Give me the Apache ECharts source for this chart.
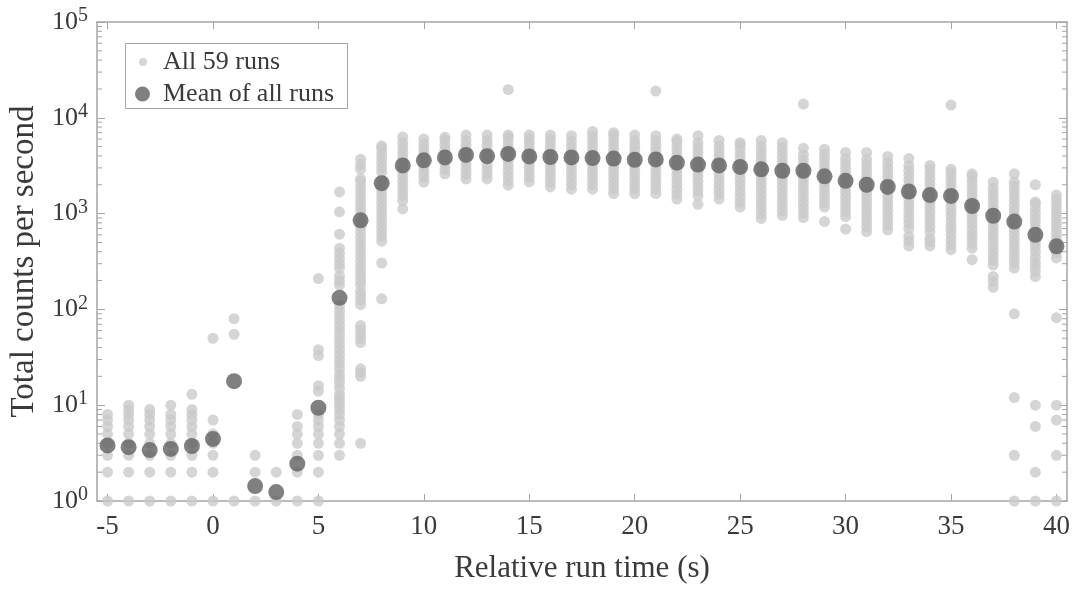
<!DOCTYPE html>
<html>
<head>
<meta charset="utf-8">
<script src="https://cdn.jsdelivr.net/npm/echarts@6/dist/echarts.min.js"></script>
<style>
  html, body { margin: 0; padding: 0; background: #fff; }
  #main { width: 1078px; height: 589px; }
</style>
</head>
<body>
<div id="main"></div>
<script>
// relative run time (s)
const times = [-5, -4, -3, -2, -1, 0, 1, 2, 3, 4, 5, 6, 7, 8, 9, 10, 11, 12, 13, 14, 15, 16, 17, 18, 19, 20,
  21, 22, 23, 24, 25, 26, 27, 28, 29, 30, 31, 32, 33, 34, 35, 36, 37, 38, 39, 40]

// visible counts of the individual runs, one list per time step
const runValues = [
  [1, 2, 3, 4, 5, 6, 7, 8],
  [1, 2, 3, 4, 5, 6, 7, 8, 9, 10],
  [1, 2, 3, 4, 5, 6, 7, 8, 9],
  [1, 2, 3, 4, 5, 6, 7, 8, 10],
  [1, 2, 3, 4, 5, 6, 7, 8, 9, 13],
  [1, 2, 3, 4, 5, 7, 50],
  [1, 55, 80],
  [1, 2, 3],
  [1, 2],
  [1, 2, 3, 4, 5, 6, 8],
  [1, 2, 3, 4, 5, 6, 7, 8, 14, 16, 33, 38, 210],
  [3, 4, 5, 6, 7, 8, 9, 10, 11, 12, 13, 15, 17, 19, 21, 24, 27, 30, 34, 38, 43, 48, 54, 61, 68, 77, 86, 97, 110,
    180, 200, 223, 270, 300, 340, 385, 435, 610, 1045, 1685],
  [4, 20, 22, 24, 45, 50, 56, 62, 68, 112, 125, 140, 155, 180, 200, 225, 250, 280, 315, 355, 400, 450, 505, 570,
    650, 730, 820, 960, 1080, 1210, 1360, 1530, 1720, 1930, 2170, 2300, 2900, 3250, 3700],
  [129, 305, 515, 580, 650, 730, 820, 920, 1030, 1160, 1300, 1460, 1640, 1800, 2000, 2250, 2700, 3030, 3400,
    3820, 4290, 4820, 5100],
  [1120, 1370, 1540, 1730, 1940, 2180, 2450, 2750, 3090, 3470, 3900, 4380, 4920, 5520, 6300],
  [2130, 2390, 2680, 3010, 3380, 3790, 4260, 4780, 5360, 6000],
  [2600, 2920, 3280, 3680, 4130, 4640, 5210, 5850, 6250],
  [2300, 2580, 2900, 3250, 3650, 4100, 4600, 5170, 5800, 6600],
  [2300, 2580, 2900, 3250, 3650, 4100, 4600, 5170, 5800, 6600],
  [1980, 2220, 2500, 2800, 3150, 3530, 3970, 4450, 5000, 5610, 6300, 6600, 19700],
  [2150, 2410, 2710, 3040, 3410, 3830, 4300, 4830, 5420, 6080, 6600],
  [1900, 2130, 2390, 2690, 3020, 3390, 3800, 4270, 4790, 5380, 6040, 6600],
  [1800, 2020, 2270, 2550, 2860, 3210, 3600, 4050, 4540, 5100, 5720, 6500],
  [1800, 2020, 2270, 2550, 2860, 3210, 3600, 4050, 4540, 5100, 5720, 6420, 7200],
  [1620, 1820, 2040, 2290, 2570, 2890, 3240, 3640, 4090, 4590, 5150, 5780, 6490, 7000],
  [1620, 1820, 2040, 2290, 2570, 2890, 3240, 3640, 4090, 4590, 5150, 5780, 6600],
  [1620, 1820, 2040, 2290, 2570, 2890, 3240, 3640, 4090, 4590, 5150, 5780, 6500, 19000],
  [1420, 1600, 1790, 2010, 2260, 2540, 2850, 3200, 3590, 4030, 4520, 5080, 5700, 6000],
  [1250, 1540, 1730, 1940, 2180, 2450, 2750, 3090, 3470, 3900, 4380, 4920, 5520, 6500],
  [1420, 1600, 1790, 2010, 2260, 2540, 2850, 3200, 3590, 4030, 4520, 5080, 5800],
  [1170, 1310, 1470, 1650, 1860, 2080, 2340, 2630, 2950, 3310, 3720, 4170, 4690, 5260, 5500],
  [890, 1000, 1120, 1260, 1410, 1590, 1780, 2000, 2250, 2520, 2830, 3180, 3570, 4010, 4500, 5050, 5800],
  [960, 1080, 1210, 1360, 1530, 1720, 1930, 2170, 2430, 2730, 3070, 3440, 3870, 4340, 4870, 5500],
  [910, 1020, 1150, 1290, 1450, 1630, 1830, 2050, 2300, 2590, 2900, 3260, 3660, 4110, 4800, 13900],
  [825, 1170, 1310, 1470, 1650, 1860, 2080, 2340, 2630, 2950, 3310, 3720, 4170, 4700],
  [690, 930, 1040, 1170, 1320, 1480, 1660, 1860, 2090, 2350, 2640, 2960, 3330, 3740, 4350],
  [650, 730, 820, 920, 1030, 1160, 1300, 1460, 1640, 1840, 2070, 2320, 2610, 2930, 3290, 3690, 4350],
  [675, 760, 850, 960, 1070, 1210, 1350, 1520, 1710, 1920, 2150, 2420, 2710, 3050, 3420, 3950],
  [460, 520, 580, 700, 790, 880, 990, 1110, 1250, 1400, 1580, 1770, 1990, 2230, 2510, 2820, 3160, 3750],
  [460, 510, 550, 650, 730, 820, 920, 1030, 1160, 1300, 1460, 1640, 1840, 2070, 2320, 2610, 2930, 3180],
  [420, 470, 530, 600, 670, 750, 840, 950, 1060, 1190, 1340, 1500, 1690, 1900, 2130, 2390, 2680, 2900, 13600],
  [330, 435, 490, 550, 610, 690, 770, 870, 970, 1090, 1230, 1380, 1550, 1740, 1950, 2190, 2460, 2600],
  [170, 195, 220, 290, 325, 365, 410, 460, 520, 580, 650, 730, 820, 920, 1040, 1160, 1310, 1470, 1650, 1850, 2130],
  [1, 3, 12, 90, 270, 305, 340, 380, 430, 480, 540, 610, 680, 770, 860, 970, 1090, 1220, 1370, 1540, 1730, 1940,
    2130, 2600],
  [1, 2, 6, 10, 220, 250, 280, 310, 350, 400, 450, 500, 560, 630, 710, 800, 890, 1000, 1130, 1270, 1320, 2000],
  [1, 3, 7, 10, 82, 345, 390, 440, 490, 550, 620, 700, 780, 880, 990, 1110, 1250, 1400, 1560]
]

// mean of all runs at each time step
const meanValues = [3.8, 3.65, 3.4, 3.5, 3.75, 4.45, 17.8, 1.43, 1.24, 2.45, 9.4, 132, 850, 2080, 3180, 3600,
  3860, 4100, 3980, 4200, 3950, 3900, 3860, 3800, 3750, 3650, 3680, 3400, 3250, 3180, 3070, 2900, 2800, 2800,
  2450, 2200, 2000, 1900, 1700, 1560, 1530, 1200, 950, 825, 600, 455]

const xTicks = [-5, 0, 5, 10, 15, 20, 25, 30, 35, 40]
const yTicks = [1, 10, 100, 1000, 10000, 100000]

const FONT = '"Liberation Serif", "Times New Roman", serif'
const axisGray = '#a5a5a5'
const textColor = '#3a3a3a'
const X_MIN = -5.5
const X_MAX = 40.5

let runPoints = []
times.forEach((t, i) => {
    runValues[i].forEach(v => runPoints.push([t, v]))
})
let meanPoints = times.map((t, i) => [t, meanValues[i]])

// log minor ticks (2..9 of each decade), drawn on left and right frame
let minorTicks = []
for (let k = 0; k < 5; k++) {
    for (let m = 2; m < 10; m++) minorTicks.push([X_MIN, m * Math.pow(10, k)])
}

let chart = echarts.init(document.getElementById('main'))

let xAxisBase = {
    type: 'value',
    min: X_MIN,
    max: X_MAX,
    splitLine: {show: false},
    axisLine: {onZero: false, lineStyle: {color: axisGray, width: 1.5}},
    axisTick: {inside: true, length: 7, customValues: xTicks, lineStyle: {color: axisGray}}
}
let yAxisBase = {
    type: 'log',
    logBase: 10,
    min: 1,
    max: 100000,
    splitLine: {show: false},
    axisLine: {onZero: false, lineStyle: {color: axisGray, width: 1.5}},
    axisTick: {inside: true, length: 8, customValues: yTicks, lineStyle: {color: axisGray}}
}

let option = {
    animation: false,
    textStyle: {fontFamily: FONT},
    grid: {left: 97, right: 11, top: 22, bottom: 84},
    graphic: [{
        type: 'rect',
        left: 125,
        top: 43,
        z: 3,
        shape: {width: 222, height: 65},
        style: {fill: '#fff', stroke: axisGray, lineWidth: 1}
    }],
    legend: [
        {
            data: ['All 59 runs'],
            left: 139, top: 49, padding: 0,
            icon: 'circle', itemWidth: 8, itemHeight: 8,
            selectedMode: false, z: 5,
            textStyle: {fontFamily: FONT, fontSize: 26, color: textColor, padding: [0, 0, 0, 11]}
        },
        {
            data: ['Mean of all runs'],
            left: 135, top: 81, padding: 0,
            icon: 'circle', itemWidth: 15, itemHeight: 15,
            selectedMode: false, z: 5,
            textStyle: {fontFamily: FONT, fontSize: 26, color: textColor, padding: [0, 0, 0, 8]}
        }
    ],
    xAxis: [
        Object.assign({}, xAxisBase, {
            position: 'bottom',
            name: 'Relative run time (s)',
            nameLocation: 'middle',
            nameGap: 52,
            nameTextStyle: {fontFamily: FONT, fontSize: 31, color: textColor},
            axisLabel: {customValues: xTicks, fontFamily: FONT, fontSize: 27, color: textColor, margin: 12}
        }),
        Object.assign({}, xAxisBase, {
            position: 'top',
            axisLabel: {show: false}
        })
    ],
    yAxis: [
        Object.assign({}, yAxisBase, {
            position: 'left',
            name: 'Total counts per second',
            nameLocation: 'middle',
            nameGap: 55,
            nameTextStyle: {fontFamily: FONT, fontSize: 33, color: textColor},
            axisLabel: {
                customValues: yTicks,
                margin: 9,
                color: textColor,
                formatter: function (value) {
                    return '{b|10}{s|' + Math.round(Math.log10(value)) + '}'
                },
                rich: {
                    b: {fontFamily: FONT, fontSize: 26, color: textColor},
                    s: {fontFamily: FONT, fontSize: 20, color: textColor, verticalAlign: 'top', padding: [0, 0, 12, 0]}
                }
            }
        }),
        Object.assign({}, yAxisBase, {
            position: 'right',
            axisLabel: {show: false}
        })
    ],
    series: [
        {
            name: 'All 59 runs',
            type: 'scatter',
            data: runPoints,
            symbolSize: 11,
            itemStyle: {color: '#cbcbcb'},
            z: 2
        },
        {
            name: 'Mean of all runs',
            type: 'scatter',
            data: meanPoints,
            symbolSize: 16,
            itemStyle: {color: '#606060'},
            z: 3
        },
        {
            type: 'custom',
            silent: true,
            clip: false,
            data: minorTicks,
            renderItem: function (params, api) {
                let l = api.coord([X_MIN, api.value(1)])
                let r = api.coord([X_MAX, api.value(1)])
                return {
                    type: 'group',
                    children: [
                        {type: 'line', shape: {x1: l[0], y1: l[1], x2: l[0] + 5, y2: l[1]}, style: {stroke: axisGray, lineWidth: 1}},
                        {type: 'line', shape: {x1: r[0], y1: r[1], x2: r[0] - 5, y2: r[1]}, style: {stroke: axisGray, lineWidth: 1}}
                    ]
                }
            },
            z: 1
        }
    ]
}

chart.setOption(option)
</script>
</body>
</html>
